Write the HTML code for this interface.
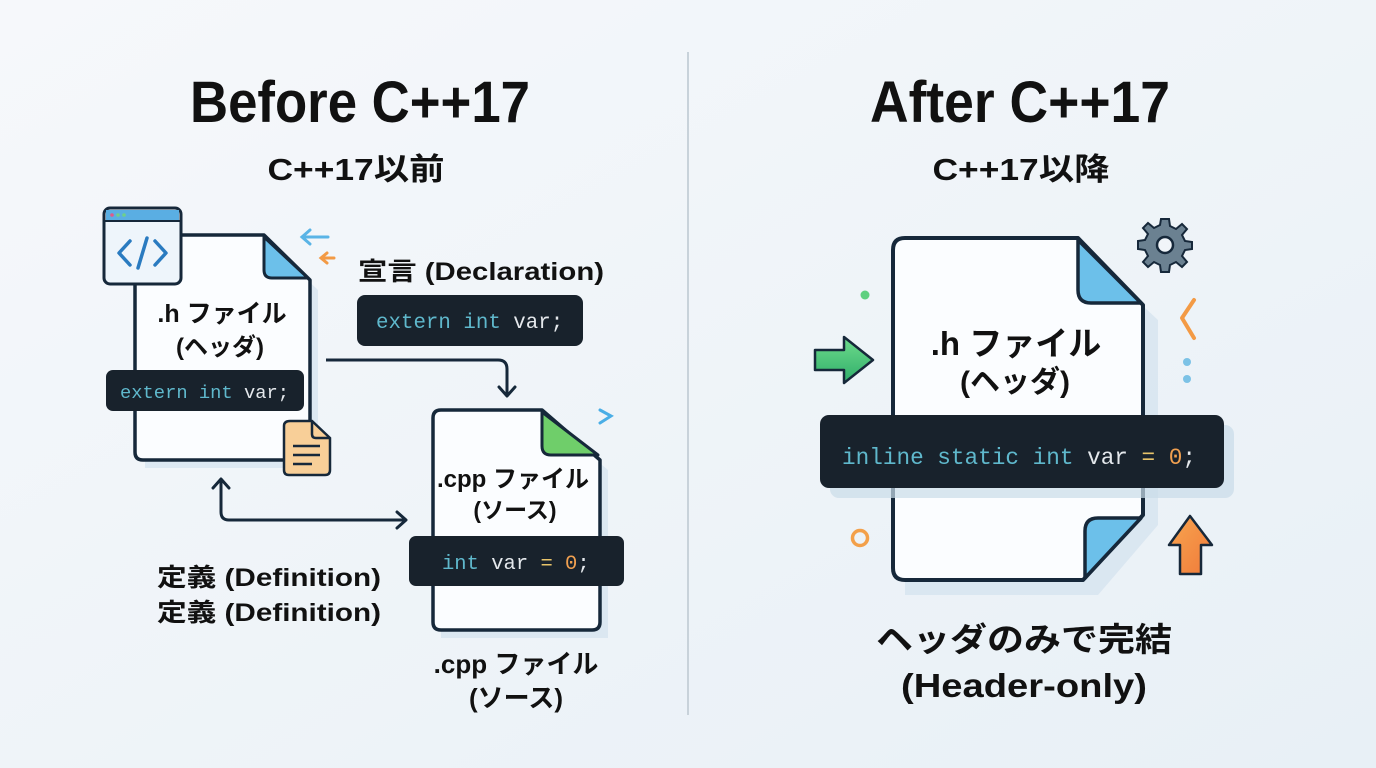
<!DOCTYPE html>
<html><head><meta charset="utf-8"><style>
html,body{margin:0;padding:0;width:1376px;height:768px;overflow:hidden;background:#f1f5f9}
svg{display:block}
.t{font-family:"Liberation Sans","Noto Sans CJK JP",sans-serif;font-weight:bold;fill:#111}
.m{font-family:"Liberation Mono","DejaVu Sans Mono",monospace}
</style></head><body>
<svg width="1376" height="768" viewBox="0 0 1376 768" xmlns="http://www.w3.org/2000/svg">
<defs>
<linearGradient id="bg" x1="0" y1="0" x2="1" y2="1"><stop offset="0" stop-color="#f6f8fb"/><stop offset="1" stop-color="#e8f0f6"/></linearGradient>
<linearGradient id="ga" x1="0" y1="0" x2="0" y2="1"><stop offset="0" stop-color="#6fdc8c"/><stop offset="1" stop-color="#2fae6a"/></linearGradient>
<linearGradient id="oa" x1="0" y1="0" x2="1" y2="1"><stop offset="0" stop-color="#f8a650"/><stop offset="1" stop-color="#f07a3a"/></linearGradient>
</defs>
<rect width="1376" height="768" fill="url(#bg)"/>
<line x1="688" y1="52" x2="688" y2="715" stroke="#c8d2da" stroke-width="2"/>

<text class="t" x="360" y="122" font-size="58" text-anchor="middle" textLength="340" lengthAdjust="spacingAndGlyphs">Before C++17</text>
<text class="t" x="356" y="180" font-size="31" text-anchor="middle" textLength="177" lengthAdjust="spacingAndGlyphs">C++17以前</text>
<text class="t" x="1020" y="122" font-size="58" text-anchor="middle" textLength="300" lengthAdjust="spacingAndGlyphs">After C++17</text>
<text class="t" x="1021" y="180" font-size="31" text-anchor="middle" textLength="177" lengthAdjust="spacingAndGlyphs">C++17以降</text>

<!-- LEFT .h file -->
<path d="M145 245 H270 L318 290 V468 H145 Z" fill="#cfe0ec" opacity="0.6"/>
<path d="M145 235 H264 L310 280 V452 Q310 460 302 460 H143 Q135 460 135 452 V243 Q135 235 145 235 Z" fill="#fbfdff" stroke="#16283a" stroke-width="3.5" stroke-linejoin="round"/>
<path d="M264 237 V270 Q264 278 272 278 H308 Z" fill="#6cc0ea" stroke="#16283a" stroke-width="3" stroke-linejoin="round"/>
<rect x="104" y="208" width="77" height="76" rx="6" fill="#eef5fb" stroke="#16283a" stroke-width="3"/>
<path d="M106 210 H179 V221 H106 Z" fill="#5aaee3"/>
<line x1="104" y1="221" x2="181" y2="221" stroke="#16283a" stroke-width="2"/>
<circle cx="112" cy="215" r="1.8" fill="#e05a8a"/><circle cx="118" cy="215" r="1.8" fill="#6fd08a"/><circle cx="124" cy="215" r="1.8" fill="#6fd08a"/>
<path d="M130 241 L119 253 L130 265 M155 241 L166 253 L155 265 M147 238 L138 268" fill="none" stroke="#2a7bc0" stroke-width="3.5" stroke-linecap="round" stroke-linejoin="round"/>
<text class="t" x="222" y="322" font-size="25" text-anchor="middle">.h ファイル</text>
<text class="t" x="220" y="355" font-size="24" text-anchor="middle">(ヘッダ)</text>
<rect x="106" y="370" width="198" height="41" rx="7" fill="#18222c"/>
<text class="m" x="120" y="398" font-size="18.8"><tspan fill="#5fb8cc">extern int </tspan><tspan fill="#e4e8ec">var;</tspan></text>
<path d="M290 421 H312 L330 438 V470 Q330 475 325 475 H289 Q284 475 284 470 V426 Q284 421 290 421 Z" fill="#f8cf98" stroke="#16283a" stroke-width="2.5"/>
<path d="M312 421 V434 Q312 438 316 438 H330" fill="none" stroke="#16283a" stroke-width="2.5"/>
<path d="M293 446 H320 M293 455 H320 M293 464 H312" stroke="#16283a" stroke-width="2.5"/>
<path d="M328 237 H302 M310 230 L302 237 L310 244" fill="none" stroke="#5ab4e6" stroke-width="3" stroke-linecap="round"/>
<path d="M334 258 H322 M327 253 L321 258 L327 263" fill="none" stroke="#f39a45" stroke-width="3" stroke-linecap="round"/>

<text class="t" x="358" y="280" font-size="25" textLength="246" lengthAdjust="spacingAndGlyphs">宣言 (Declaration)</text>
<rect x="357" y="295" width="226" height="51" rx="8" fill="#18222c"/>
<text class="m" x="376" y="328" font-size="20.8"><tspan fill="#5fb8cc">extern int </tspan><tspan fill="#e4e8ec">var;</tspan></text>

<path d="M326 360 H498 Q507 360 507 369 V395" fill="none" stroke="#16283a" stroke-width="3"/>
<path d="M499 387 L507 396 L515 387" fill="none" stroke="#16283a" stroke-width="3" stroke-linecap="round" stroke-linejoin="round"/>

<!-- cpp file -->
<path d="M441 420 H548 L608 470 V638 H441 Z" fill="#cfe0ec" opacity="0.6"/>
<path d="M441 410 H542 L600 460 V622 Q600 630 592 630 H441 Q433 630 433 622 V418 Q433 410 441 410 Z" fill="#fbfdff" stroke="#16283a" stroke-width="3.5" stroke-linejoin="round"/>
<path d="M542 412 V446 Q542 455 551 455 H598 Z" fill="#6fce6a" stroke="#16283a" stroke-width="3" stroke-linejoin="round"/>
<path d="M600 410 L611 416 L600 423" fill="none" stroke="#4aaee6" stroke-width="3" stroke-linecap="round"/>
<text class="t" x="513" y="487" font-size="24" text-anchor="middle">.cpp ファイル</text>
<text class="t" x="515" y="518" font-size="23" text-anchor="middle">(ソース)</text>
<rect x="409" y="536" width="215" height="50" rx="7" fill="#18222c"/>
<text class="m" x="442" y="569" font-size="20.5"><tspan fill="#5fb8cc">int </tspan><tspan fill="#e4e8ec">var </tspan><tspan fill="#e8c46a">= </tspan><tspan fill="#f0a050">0</tspan><tspan fill="#e4e8ec">;</tspan></text>

<path d="M221 480 V512 Q221 520 229 520 H405" fill="none" stroke="#16283a" stroke-width="3"/>
<path d="M213 488 L221 479 L229 488 M397 512 L406 520 L397 528" fill="none" stroke="#16283a" stroke-width="3" stroke-linecap="round" stroke-linejoin="round"/>

<text class="t" x="157" y="586" font-size="25" textLength="224" lengthAdjust="spacingAndGlyphs">定義 (Definition)</text>
<text class="t" x="157" y="621" font-size="25" textLength="224" lengthAdjust="spacingAndGlyphs">定義 (Definition)</text>
<text class="t" x="516" y="673" font-size="26" text-anchor="middle">.cpp ファイル</text>
<text class="t" x="516" y="707" font-size="26" text-anchor="middle">(ソース)</text>

<!-- RIGHT big doc -->
<path d="M905 252 H1085 L1158 320 V525 L1098 595 H905 Z" fill="#cfe0ec" opacity="0.6"/>
<path d="M905 238 H1078 L1143 305 V515 L1083 580 H905 Q893 580 893 568 V250 Q893 238 905 238 Z" fill="#fbfdff" stroke="#16283a" stroke-width="4" stroke-linejoin="round"/>
<path d="M1078 240 V290 Q1078 303 1091 303 H1141 Z" fill="#6cc0ea" stroke="#16283a" stroke-width="3.5" stroke-linejoin="round"/>
<path d="M1085 578 V531 Q1085 518 1098 518 H1141 Z" fill="#6cc0ea" stroke="#16283a" stroke-width="3.5" stroke-linejoin="round"/>
<text class="t" x="1016" y="355" font-size="33" text-anchor="middle">.h ファイル</text>
<text class="t" x="1015" y="392" font-size="30" text-anchor="middle">(ヘッダ)</text>
<rect x="830" y="425" width="404" height="73" rx="9" fill="#c9dce8" opacity="0.7"/>
<rect x="820" y="415" width="404" height="73" rx="9" fill="#18222c"/>
<text class="m" x="842" y="464" font-size="22.7"><tspan fill="#5fb8cc">inline static int </tspan><tspan fill="#e4e8ec">var </tspan><tspan fill="#e8c46a">= </tspan><tspan fill="#f0a050">0</tspan><tspan fill="#e4e8ec">;</tspan></text>

<g transform="translate(1165,245)">
<g fill="#6b8191" stroke="#16283a" stroke-width="2">
<path d="M-4 -26 H4 L5 -19 L11 -16 L17 -21 L22 -16 L17 -10 L20 -4 L27 -3 V4 L20 5 L17 11 L22 17 L17 22 L11 17 L5 20 L4 27 H-4 L-5 20 L-11 17 L-17 22 L-22 17 L-17 11 L-20 5 L-27 4 V-4 L-20 -5 L-17 -11 L-22 -17 L-17 -22 L-11 -17 L-5 -20 Z"/>
</g>
<circle r="8" fill="#f1f5f9" stroke="#16283a" stroke-width="2.5"/>
</g>
<circle cx="865" cy="295" r="4.5" fill="#5fd080"/>
<path d="M1194 300 L1182 318 L1194 338" fill="none" stroke="#f39a45" stroke-width="4" stroke-linecap="round" stroke-linejoin="round"/>
<circle cx="1187" cy="362" r="4" fill="#7cc2e6"/>
<circle cx="1187" cy="379" r="4" fill="#7cc2e6"/>
<path d="M815 350 H844 V337 L873 360 L844 383 V370 H815 Z" fill="url(#ga)" stroke="#16283a" stroke-width="2.5" stroke-linejoin="round"/>
<circle cx="860" cy="538" r="7.5" fill="none" stroke="#f3a04a" stroke-width="3.5"/>
<path d="M1180 574 V545 H1169 L1190 516 L1212 545 H1201 V574 Z" fill="url(#oa)" stroke="#16283a" stroke-width="2.5" stroke-linejoin="round"/>

<text class="t" x="1024" y="651" font-size="33" text-anchor="middle" textLength="296" lengthAdjust="spacingAndGlyphs">ヘッダのみで完結</text>
<text class="t" x="1024" y="697" font-size="33" text-anchor="middle" textLength="246" lengthAdjust="spacingAndGlyphs">(Header-only)</text>
</svg>
</body></html>
